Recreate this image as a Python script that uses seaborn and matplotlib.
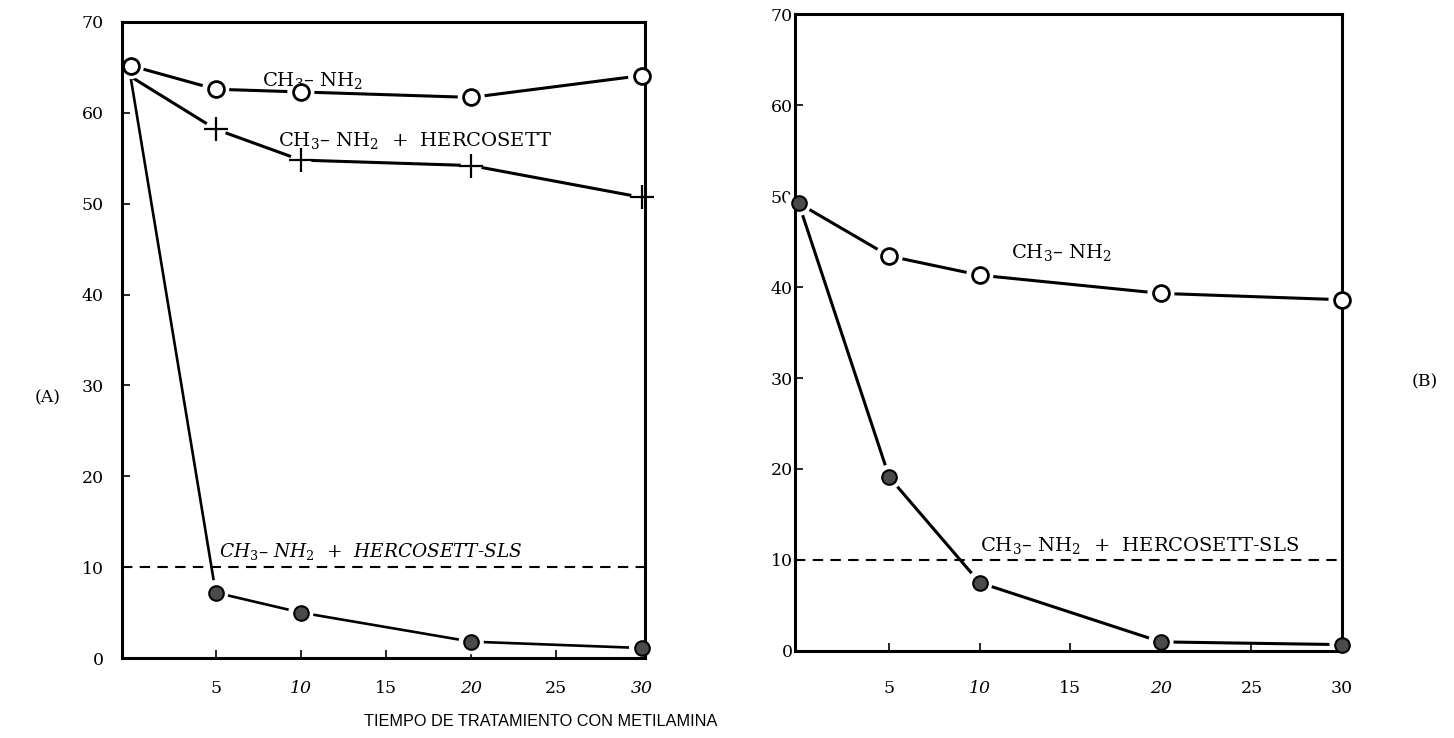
import matplotlib
matplotlib.use("Agg")
import matplotlib.pyplot as plt
import seaborn as sns
import pandas as pd

# ---- data ----
time = [0, 5, 10, 20, 30]
a_ch3nh2 = [65.2, 62.6, 62.3, 61.7, 64.1]
a_hercosett = [64.0, 58.2, 54.8, 54.2, 50.7]
a_sls = [64.0, 7.2, 5.0, 1.8, 1.1]
b_ch3nh2 = [49.2, 43.4, 41.3, 39.3, 38.6]
b_sls = [49.2, 19.1, 7.5, 1.0, 0.7]
threshold = 10
yticks = [0, 10, 20, 30, 40, 50, 60, 70]
xticks = [5, 10, 15, 20, 25, 30]
xlabel = "TIEMPO DE TRATAMIENTO CON METILAMINA"
lbl_ch3 = r"CH$_3$– NH$_2$"
lbl_herc = r"CH$_3$– NH$_2$  +  HERCOSETT"
lbl_sls = r"CH$_3$– NH$_2$  +  HERCOSETT-SLS"

sns.set_theme(style="white")
plt.rcParams["font.family"] = ["DejaVu Serif"]
plt.rcParams["mathtext.fontset"] = "dejavuserif"
plt.rcParams["text.color"] = "black"
plt.rcParams["xtick.color"] = "black"
plt.rcParams["ytick.color"] = "black"
plt.rcParams["xtick.labelcolor"] = "black"
plt.rcParams["ytick.labelcolor"] = "black"

fig = plt.figure(figsize=(14.54, 7.38), dpi=100)
axA = fig.add_axes([0.0839, 0.1084, 0.3597, 0.8618])
axB = fig.add_axes([0.5468, 0.1179, 0.3762, 0.8631])

STYLE = {
    "open": dict(marker="o", s=130, color="white", edgecolor="black", linewidth=2.0, halo=380),
    "plus": dict(marker="+", s=300, color="black", linewidth=1.6, halo=230),
    "filled": dict(marker="o", s=110, color="#4a4a4a", edgecolor="black", linewidth=1.5, halo=330),
}


def draw_series(ax, x, y, kind, skip_first=False, lw=2.2):
    df = pd.DataFrame({"t": x, "v": y})
    sns.lineplot(data=df, x="t", y="v", ax=ax, color="black", lw=lw,
                 estimator=None, sort=False, legend=False, zorder=2)
    m = df.iloc[1:] if skip_first else df
    st = dict(STYLE[kind])
    halo = st.pop("halo")
    sns.scatterplot(data=m, x="t", y="v", ax=ax, s=halo, color="white",
                    edgecolor="none", legend=False, zorder=2.3, clip_on=False)
    sns.scatterplot(data=m, x="t", y="v", ax=ax, legend=False, zorder=4,
                    clip_on=False, **st)


def style_axes(ax, xlim, ypad, xpad, italic_x):
    ax.set_xlim(*xlim)
    ax.set_ylim(0, 70)
    ax.set_xticks(xticks)
    ax.set_yticks(yticks)
    ax.set_xticklabels([str(v) for v in xticks])
    ax.set_yticklabels([str(v) for v in yticks])
    for sp in ax.spines.values():
        sp.set_visible(True)
        sp.set_linewidth(2.2)
        sp.set_color("black")
        sp.set_zorder(2.5)
    ax.tick_params(axis="both", direction="in", length=6, width=1.2,
                   colors="black", labelsize=12.5)
    ax.tick_params(axis="y", pad=ypad, left=True)
    ax.tick_params(axis="x", pad=xpad, bottom=True)
    for lab in ax.get_xticklabels():
        if lab.get_text() in italic_x:
            lab.set_style("italic")
    ax.set_xlabel("")
    ax.set_ylabel("")
    ax.axhline(threshold, color="black", lw=1.5, ls=(0, (5, 3.5)), zorder=1)


# Panel A
draw_series(axA, time, a_sls, "filled", skip_first=True, lw=1.9)
draw_series(axA, time, a_hercosett, "plus", skip_first=True)
draw_series(axA, time, a_ch3nh2, "open")
style_axes(axA, (-0.5, 30.2), 13, 16, {"10", "20", "30"})
axA.text(10.7, 63.6, lbl_ch3, fontsize=14, ha="center", va="center")
axA.text(16.7, 57.0, lbl_herc, fontsize=14, ha="center", va="center")
axA.text(14.1, 11.7, lbl_sls, fontsize=13.3, ha="center", va="center", style="italic")

# Panel B
draw_series(axB, time, b_sls, "filled")
draw_series(axB, time, b_ch3nh2, "open", skip_first=True)
style_axes(axB, (-0.2, 30.0), 1.5, 21, {"10", "20"})
axB.text(14.5, 43.8, lbl_ch3, fontsize=14, ha="center", va="center")
axB.text(18.8, 11.6, lbl_sls, fontsize=14, ha="center", va="center")

fig.text(0.024, 0.461, "(A)", fontsize=12.5, ha="left", va="center")
fig.text(0.989, 0.482, "(B)", fontsize=12.5, ha="right", va="center")
fig.text(0.372, 0.012, xlabel, fontsize=11.7, ha="center", va="bottom",
         family=["Liberation Sans", "DejaVu Sans"], color="black")

fig.savefig("out.png", dpi=100, facecolor="white")
